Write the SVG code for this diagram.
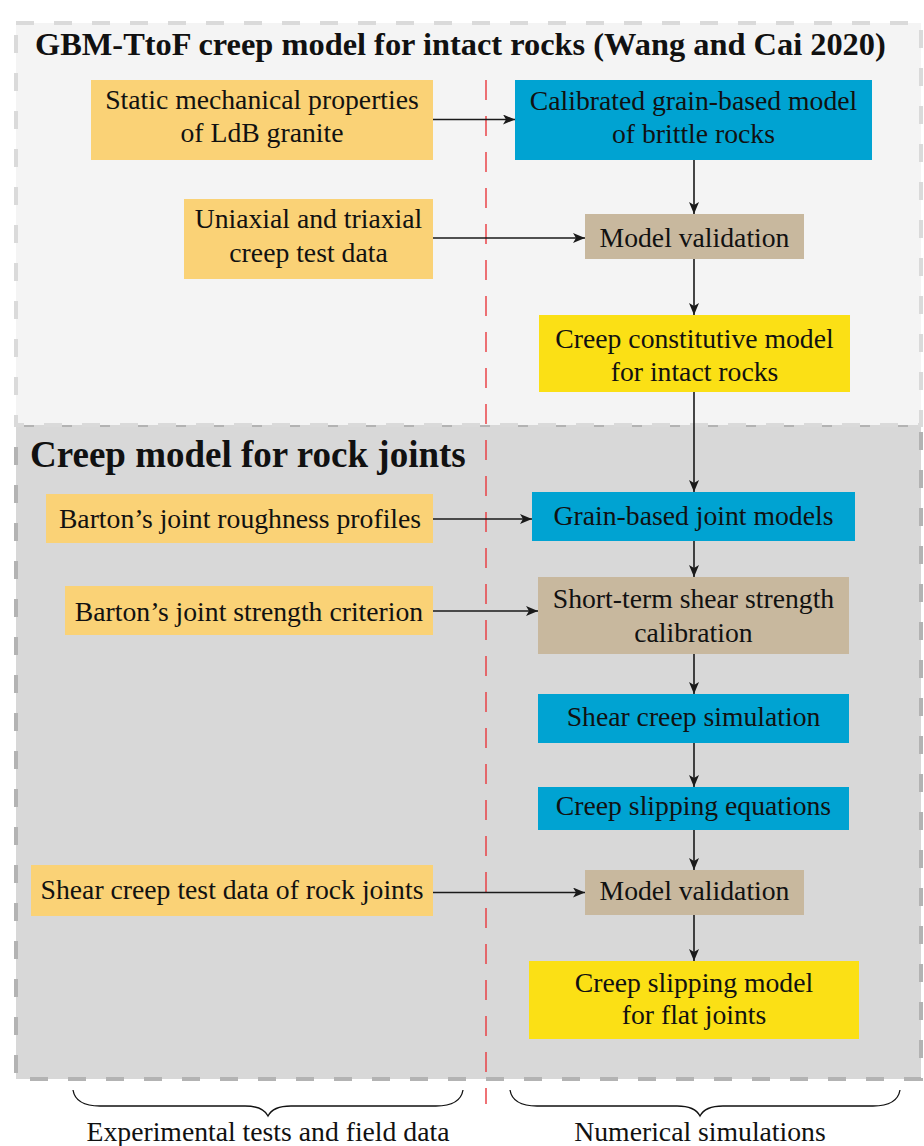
<svg xmlns="http://www.w3.org/2000/svg" width="924" height="1146" viewBox="0 0 924 1146">
<style>
text{font-family:"Liberation Serif","Times New Roman",serif;fill:#111;}
.t{font-size:27.7px;text-anchor:middle;}
.h{font-weight:bold;}
.or{fill:#fad276;}
.bl{fill:#00a3d2;}
.tn{fill:#c8b89e;}
.ye{fill:#fbe015;}
.c{stroke:#1a1a1a;stroke-width:1.6;fill:none;marker-end:url(#ah);}
.br{stroke:#111;stroke-width:1.3;fill:none;}
</style>
<defs>
<marker id="ah" viewBox="0 0 12 10" refX="12" refY="5" markerWidth="12" markerHeight="10" markerUnits="userSpaceOnUse" orient="auto">
<path d="M0,0 L12,5 L0,10 L3,5 Z" fill="#1a1a1a"/>
</marker>
</defs>
<g id="background">
<rect x="16" y="425" width="905" height="654" fill="#d8d8d8" stroke="#b3b3b3" stroke-width="4" stroke-dasharray="18 20"/>
<rect x="16" y="23" width="905" height="402" fill="#f4f4f4" stroke="#dadada" stroke-width="4" stroke-dasharray="18 20"/>
<line x1="486" y1="80" x2="486" y2="1104" stroke="#e8383d" stroke-width="1.4" stroke-dasharray="20 16"/>
</g>
<g id="titles">
<text class="h" x="35" y="55" font-size="32.4">GBM-TtoF creep model for intact rocks (Wang and Cai 2020)</text>
<text class="h" x="30" y="467" font-size="37">Creep model for rock joints</text>
</g>
<g id="n-static"><rect class="or" x="91" y="80" width="342" height="80"/><text class="t" x="262" y="108.5">Static mechanical properties</text><text class="t" x="262" y="142">of LdB granite</text></g>
<g id="n-calibrated"><rect class="bl" x="515" y="80" width="357" height="80"/><text class="t" x="693.5" y="109.5">Calibrated grain-based model</text><text class="t" x="693.5" y="143">of brittle rocks</text></g>
<g id="n-uniaxial"><rect class="or" x="184" y="199" width="249" height="80"/><text class="t" x="308.5" y="228">Uniaxial and triaxial</text><text class="t" x="308.5" y="262">creep test data</text></g>
<g id="n-validation1"><rect class="tn" x="585" y="214" width="219" height="45"/><text class="t" x="694.5" y="246.7">Model validation</text></g>
<g id="n-constitutive"><rect class="ye" x="539" y="315" width="311" height="77"/><text class="t" x="694.5" y="348.3">Creep constitutive model</text><text class="t" x="694.5" y="380.7">for intact rocks</text></g>
<g id="n-roughness"><rect class="or" x="46" y="494" width="387" height="49"/><text class="t" x="240" y="528.3">Barton’s joint roughness profiles</text></g>
<g id="n-grainjoint"><rect class="bl" x="532" y="492" width="323" height="49"/><text class="t" x="693.5" y="525">Grain-based joint models</text></g>
<g id="n-strength"><rect class="or" x="65" y="586" width="368" height="49"/><text class="t" x="249" y="620.7">Barton’s joint strength criterion</text></g>
<g id="n-shortterm"><rect class="tn" x="538" y="577" width="311" height="77"/><text class="t" x="693.5" y="608.3">Short-term shear strength</text><text class="t" x="693.5" y="641.7">calibration</text></g>
<g id="n-shearsim"><rect class="bl" x="538" y="694" width="311" height="49"/><text class="t" x="693.5" y="726">Shear creep simulation</text></g>
<g id="n-equations"><rect class="bl" x="538" y="787" width="311" height="43"/><text class="t" x="693.5" y="815">Creep slipping equations</text></g>
<g id="n-sheartest"><rect class="or" x="31" y="865" width="402" height="51"/><text class="t" x="232" y="899">Shear creep test data of rock joints</text></g>
<g id="n-validation2"><rect class="tn" x="585" y="870" width="219" height="45"/><text class="t" x="694.5" y="900">Model validation</text></g>
<g id="n-slipmodel"><rect class="ye" x="529" y="961" width="330" height="78"/><text class="t" x="694" y="991.7">Creep slipping model</text><text class="t" x="694" y="1024">for flat joints</text></g>
<g id="connectors">
<line class="c" x1="433" y1="119.5" x2="515" y2="119.5"/>
<line class="c" x1="433" y1="238" x2="585" y2="238"/>
<line class="c" x1="433" y1="519" x2="532" y2="519"/>
<line class="c" x1="433" y1="611" x2="538" y2="611"/>
<line class="c" x1="433" y1="892.5" x2="585" y2="892.5"/>
<line class="c" x1="694" y1="160" x2="694" y2="214"/>
<line class="c" x1="694" y1="259" x2="694" y2="315"/>
<line class="c" x1="694" y1="392" x2="694" y2="492"/>
<line class="c" x1="694" y1="541" x2="694" y2="577"/>
<line class="c" x1="694" y1="654" x2="694" y2="694"/>
<line class="c" x1="694" y1="743" x2="694" y2="787"/>
<line class="c" x1="694" y1="830" x2="694" y2="870"/>
<line class="c" x1="694" y1="915" x2="694" y2="961"/>
</g>
<g id="braces">
<path class="br" d="M73,1090 C75,1102 85,1106 100,1106 L245,1106 C258,1106 265,1110 268,1116 C271,1110 278,1106 291,1106 L436,1106 C451,1106 461,1102 463,1090"/>
<path class="br" d="M510,1090 C512,1102 522,1106 537,1106 L677,1106 C690,1106 697,1110 700,1116 C703,1110 710,1106 723,1106 L873,1106 C888,1106 898,1102 900,1090"/>
<text class="t" x="268" y="1141">Experimental tests and field data</text>
<text class="t" x="700" y="1141">Numerical simulations</text>
</g>
</svg>
